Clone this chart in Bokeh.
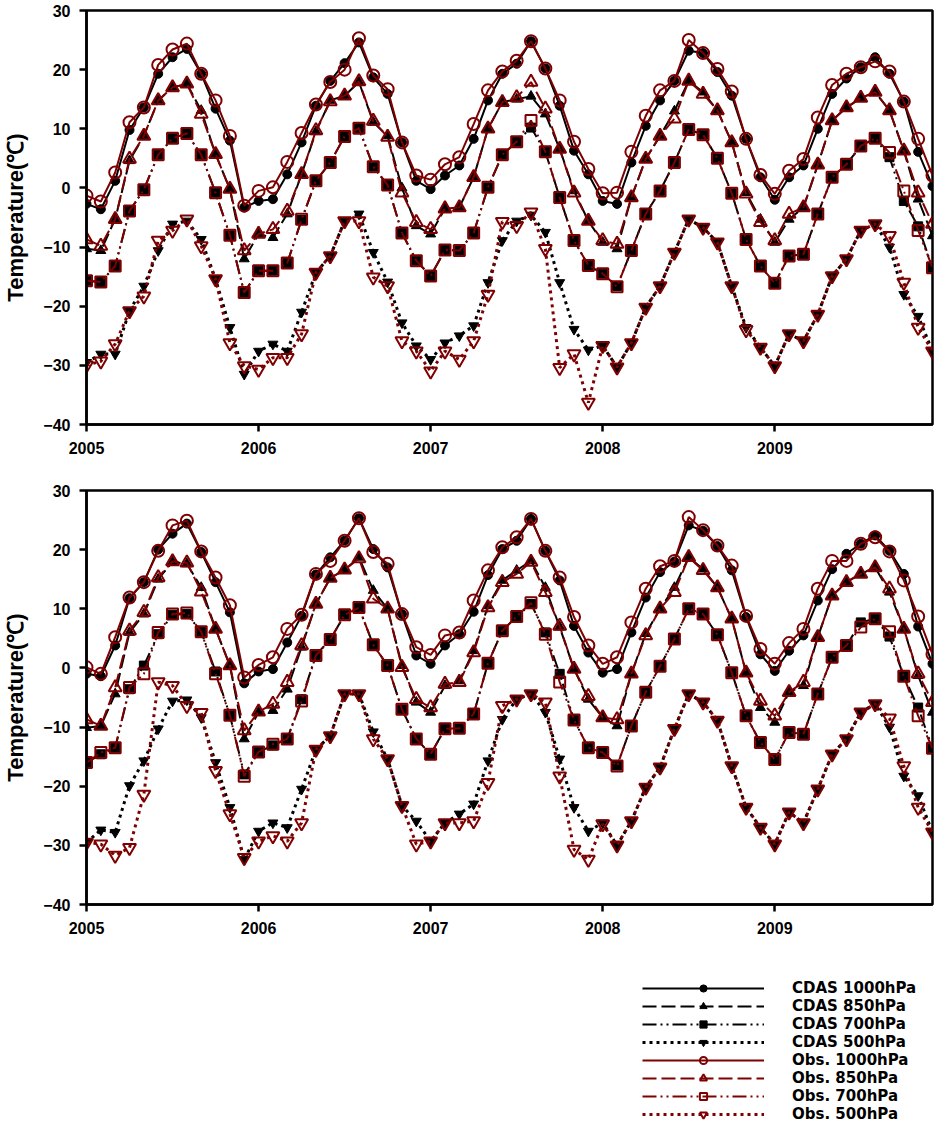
from bokeh.plotting import figure
from bokeh.models import Range1d, FixedTicker, Legend, LegendItem, ColumnDataSource
from bokeh.layouts import column
from bokeh.embed import file_html
from bokeh.resources import INLINE

# ---------------- data ----------------
month_index = list(range(60))          # Jan 2005 .. Dec 2009
year_ticks = [0, 12, 24, 36, 48]
year_labels = ["2005", "2006", "2007", "2008", "2009"]
y_ticks = [-40, -30, -20, -10, 0, 10, 20, 30]

series_names = ["CDAS 1000hPa", "CDAS 850hPa", "CDAS 700hPa", "CDAS 500hPa",
                "Obs. 1000hPa", "Obs. 850hPa", "Obs. 700hPa", "Obs. 500hPa"]

# ---- top panel ----
cdas1000_top = [-2.7, -3.6, 1.2, 9.8, 13.6, 19.3, 22.1, 23.5, 19.3, 13.4, 8.0, -3.3,
                -2.2, -1.9, 2.3, 7.7, 13.9, 18.1, 21.1, 24.6, 18.7, 15.9, 7.7, 1.2,
                -0.2, 2.1, 3.8, 8.3, 14.8, 19.3, 21.0, 24.8, 20.2, 13.9, 6.3, 2.3,
                -2.2, -2.7, 4.3, 10.5, 14.8, 18.1, 23.2, 22.8, 19.6, 15.6, 8.3, 1.8,
                -2.0, 1.8, 3.8, 10.0, 15.9, 18.5, 20.4, 22.1, 19.3, 14.6, 6.1, 0.3]
obs1000_top = [-1.3, -2.3, 2.6, 11.1, 13.6, 20.8, 23.4, 24.4, 19.3, 14.8, 8.8, -3.0,
               -0.5, 0.1, 4.4, 9.3, 14.1, 17.9, 20.0, 25.3, 19.0, 16.7, 7.7, 2.1,
               1.4, 4.0, 5.2, 10.8, 16.5, 19.7, 21.5, 24.8, 20.2, 14.8, 7.8, 3.2,
               -0.9, -0.8, 6.1, 12.2, 16.5, 18.1, 25.0, 22.8, 20.1, 16.3, 8.3, 2.2,
               -1.0, 2.9, 4.9, 11.9, 17.4, 19.3, 20.4, 21.4, 19.7, 14.6, 8.3, 2.1]
cdas850_top = [-10.3, -10.6, -5.3, 4.6, 8.8, 14.8, 17.0, 17.6, 13.1, 5.7, -0.2, -12.0,
               -7.8, -8.4, -4.4, 2.3, 9.5, 14.8, 15.6, 17.9, 11.1, 8.8, 0.0, -6.4,
               -7.8, -3.5, -3.3, 1.8, 10.0, 14.5, 15.0, 15.5, 12.5, 6.6, -0.5, -5.6,
               -9.2, -10.3, -1.6, 4.9, 8.8, 13.0, 18.1, 16.2, 13.1, 7.7, -0.8, -5.3,
               -9.2, -5.3, -3.3, 3.9, 11.4, 13.6, 15.2, 16.2, 13.1, 6.3, -1.9, -8.1]
obs850_top = [-8.7, -9.8, -5.3, 4.9, 8.8, 14.8, 17.0, 17.6, 12.5, 5.7, -0.2, -10.6,
              -7.8, -7.0, -3.9, 2.3, 9.7, 14.6, 15.6, 18.0, 11.3, 8.6, -0.8, -5.8,
              -7.0, -3.5, -3.3, 1.8, 10.0, 14.5, 15.3, 17.9, 13.4, 6.6, -0.8, -5.6,
              -8.9, -9.5, -1.6, 4.9, 8.8, 11.7, 18.1, 15.9, 13.1, 7.7, -1.0, -5.8,
              -8.9, -4.4, -3.3, 3.9, 11.4, 13.6, 15.2, 16.2, 13.1, 6.3, -0.8, -6.1]
cdas700_top = [-15.7, -15.9, -13.2, -3.9, -0.3, 5.6, 8.4, 9.2, 5.6, -0.8, -8.0, -17.7,
               -14.0, -14.0, -12.7, -5.4, 1.2, 4.3, 8.7, 10.1, 3.6, 0.5, -7.6, -12.3,
               -14.9, -10.5, -10.6, -7.6, 0.1, 5.6, 7.8, 10.2, 6.1, -1.6, -8.9, -13.1,
               -14.5, -16.6, -10.6, -4.4, -0.5, 4.3, 9.9, 9.0, 5.0, -0.9, -8.7, -13.2,
               -16.1, -11.5, -11.2, -4.4, 1.8, 4.0, 7.1, 8.4, 5.2, -2.2, -6.5, -13.5]
obs700_top = [-15.7, -15.9, -13.2, -3.9, -0.3, 5.6, 8.4, 9.2, 5.6, -0.8, -8.0, -17.7,
              -14.0, -14.0, -12.7, -5.3, 1.2, 4.3, 8.7, 10.1, 3.6, 0.5, -7.6, -12.3,
              -14.9, -10.5, -10.6, -7.6, 0.1, 5.6, 7.8, 11.4, 6.1, -1.6, -8.9, -13.1,
              -14.5, -16.7, -10.6, -4.4, -0.5, 4.3, 9.9, 9.0, 5.0, -0.9, -8.7, -13.2,
              -16.1, -11.5, -11.2, -4.4, 1.8, 4.0, 7.1, 8.4, 6.0, -0.5, -7.2, -13.5]
cdas500_top = [-29.5, -28.1, -28.1, -20.8, -16.6, -10.6, -6.1, -5.6, -8.7, -15.4, -23.6, -31.5,
               -27.6, -26.4, -27.6, -21.0, -14.3, -11.5, -5.6, -4.4, -10.9, -15.9, -22.8, -26.7,
               -29.0, -26.2, -25.0, -23.3, -16.0, -8.9, -5.6, -4.6, -7.5, -16.0, -23.9, -27.4,
               -26.7, -30.3, -26.2, -20.2, -16.6, -10.9, -5.3, -6.7, -9.2, -16.6, -23.6, -27.0,
               -30.1, -24.7, -25.9, -21.4, -14.9, -12.0, -7.2, -6.1, -10.0, -18.0, -21.7, -27.6]
obs500_top = [-30.0, -29.3, -26.4, -20.8, -18.3, -8.9, -7.2, -5.3, -9.8, -15.4, -26.2, -30.1,
              -30.7, -28.7, -28.7, -24.7, -14.3, -11.5, -5.6, -5.6, -15.1, -16.6, -25.9, -27.6,
              -31.0, -27.6, -29.0, -25.9, -18.0, -5.7, -6.4, -4.1, -10.3, -30.4, -28.1, -36.3,
              -26.7, -30.3, -26.2, -20.2, -16.6, -10.9, -5.3, -6.7, -9.2, -16.6, -24.0, -27.0,
              -30.1, -24.7, -25.9, -21.4, -14.9, -12.0, -7.2, -6.1, -8.1, -16.0, -23.6, -27.6]

# ---- bottom panel ----
cdas1000_bot = [-1.0, -1.4, 3.8, 11.8, 14.5, 20.0, 22.7, 24.4, 19.6, 14.5, 9.4, -2.6,
                -0.6, -0.2, 4.3, 8.8, 15.8, 18.7, 21.5, 25.3, 20.1, 17.0, 9.1, 2.1,
                0.7, 3.8, 5.7, 9.5, 15.7, 20.1, 21.5, 25.2, 19.8, 14.8, 7.1, 2.6,
                -0.8, -0.2, 6.0, 11.9, 16.2, 18.0, 24.1, 23.2, 20.6, 16.5, 8.6, 2.3,
                -0.5, 2.9, 5.5, 11.4, 16.7, 19.3, 21.0, 22.4, 19.8, 15.9, 7.0, 0.7]
obs1000_bot = [0.1, -1.0, 5.2, 11.9, 14.5, 19.8, 24.1, 24.9, 19.7, 15.3, 10.6, -1.6,
               0.5, 1.8, 6.6, 9.0, 15.9, 18.1, 21.5, 25.3, 19.6, 17.6, 9.1, 3.5,
               2.2, 5.5, 6.0, 11.4, 16.5, 20.4, 22.1, 25.2, 19.8, 15.3, 8.6, 3.8,
               0.7, 1.8, 7.7, 13.4, 17.2, 18.1, 25.5, 23.3, 20.7, 17.3, 8.8, 3.2,
               0.7, 4.2, 6.6, 13.4, 18.1, 18.1, 21.0, 22.1, 19.7, 14.8, 8.7, 2.3]
cdas850_bot = [-10.1, -9.8, -4.4, 6.0, 9.1, 15.0, 17.9, 17.6, 13.6, 6.6, 0.4, -12.0,
               -7.5, -7.2, -3.6, 3.5, 10.8, 15.2, 16.6, 18.7, 13.1, 10.0, 0.4, -5.8,
               -7.5, -3.0, -2.2, 2.9, 10.5, 14.8, 16.5, 18.1, 13.6, 6.9, -0.2, -5.3,
               -8.4, -9.8, -1.0, 5.8, 10.0, 13.6, 18.7, 16.7, 13.6, 8.3, -0.8, -6.7,
               -9.2, -4.1, -3.0, 5.2, 12.2, 14.5, 15.9, 17.0, 12.8, 6.6, -1.3, -7.5]
obs850_bot = [-8.7, -9.8, -3.3, 6.3, 9.4, 15.3, 18.0, 17.8, 12.9, 6.6, 0.4, -10.6,
              -7.4, -6.1, -2.4, 3.8, 10.8, 15.2, 16.6, 18.5, 11.7, 10.0, 0.1, -5.3,
              -6.7, -2.7, -2.4, 2.6, 10.2, 14.5, 15.9, 17.9, 12.8, 7.1, -0.2, -4.8,
              -8.4, -8.7, -1.0, 5.5, 10.0, 12.8, 18.7, 16.5, 13.6, 8.3, -0.8, -5.6,
              -8.1, -4.1, -2.4, 5.2, 12.2, 14.5, 15.9, 17.0, 13.4, 6.6, -1.0, -5.8]
cdas700_bot = [-16.0, -14.6, -13.5, -3.6, 0.4, 5.7, 9.0, 9.1, 6.1, -0.6, -8.0, -18.0,
               -14.2, -13.1, -12.0, -5.3, 2.2, 4.8, 9.0, 10.2, 3.9, 0.4, -7.0, -12.0,
               -14.6, -10.3, -10.2, -7.8, 0.8, 6.3, 8.7, 10.8, 6.0, -1.0, -8.8, -13.5,
               -14.3, -16.5, -9.8, -4.1, 0.3, 4.9, 10.0, 9.1, 5.6, -0.8, -8.1, -12.6,
               -15.5, -10.9, -11.2, -4.4, 1.8, 3.8, 7.7, 8.3, 5.3, -1.4, -6.7, -13.6]
obs700_bot = [-16.0, -14.3, -13.5, -3.3, -1.0, 6.0, 9.1, 9.3, 6.1, -1.0, -8.0, -18.3,
              -14.2, -12.9, -12.0, -5.6, 2.1, 4.8, 9.0, 10.2, 3.9, 0.4, -7.0, -12.0,
              -14.6, -10.3, -10.2, -7.8, 0.8, 6.3, 8.7, 11.0, 5.7, -2.4, -8.8, -13.5,
              -14.3, -16.6, -9.8, -4.1, 0.3, 4.9, 10.0, 9.1, 5.6, -0.8, -8.1, -12.6,
              -15.5, -10.9, -11.2, -4.4, 1.8, 3.8, 6.9, 8.3, 6.1, -1.4, -8.1, -13.6]
cdas500_bot = [-29.5, -27.4, -27.8, -19.9, -15.7, -10.3, -5.6, -5.4, -8.4, -16.0, -23.6, -32.4,
               -27.6, -26.2, -27.0, -20.5, -13.8, -11.5, -4.4, -4.4, -10.8, -15.4, -23.3, -25.9,
               -29.3, -26.2, -24.7, -23.0, -15.7, -8.7, -5.3, -4.4, -7.5, -15.4, -23.6, -27.6,
               -26.2, -30.0, -25.9, -20.2, -16.8, -10.3, -4.4, -5.8, -8.9, -16.6, -23.6, -27.0,
               -29.8, -24.4, -26.2, -20.5, -14.6, -12.0, -7.5, -6.1, -10.0, -18.3, -21.6, -27.8]
obs500_bot = [-29.5, -29.8, -31.7, -30.4, -21.4, -2.4, -3.0, -6.4, -7.6, -17.4, -24.7, -32.1,
              -29.3, -28.4, -29.3, -26.2, -13.8, -11.5, -4.4, -4.4, -12.0, -15.4, -23.3, -29.8,
              -29.3, -26.2, -26.2, -25.9, -19.4, -6.4, -5.3, -4.4, -5.8, -18.3, -30.7, -32.4,
              -26.4, -30.0, -25.9, -20.2, -16.8, -10.3, -4.4, -5.8, -8.9, -16.6, -23.6, -27.0,
              -29.8, -24.4, -26.2, -20.5, -14.6, -12.0, -7.5, -6.1, -8.5, -16.6, -23.6, -27.8]

top_values = [cdas1000_top, cdas850_top, cdas700_top, cdas500_top,
              obs1000_top, obs850_top, obs700_top, obs500_top]
bot_values = [cdas1000_bot, cdas850_bot, cdas700_bot, cdas500_bot,
              obs1000_bot, obs850_bot, obs700_bot, obs500_bot]

# ---------------- styles ----------------
BLACK = "#000000"
RED = "#7f0000"
styles = [
    dict(color=BLACK, dash="solid", width=2, marker="circle", size=9, filled=True),
    dict(color=BLACK, dash="14 5", width=2, marker="triangle", size=10, filled=True),
    dict(color=BLACK, dash="14 4 2 4 2 4", width=2, marker="square", size=9, filled=True),
    dict(color=BLACK, dash="3 4", width=3, marker="inverted_triangle", size=10, filled=True),
    dict(color=RED, dash="solid", width=2, marker="circle", size=12, filled=False),
    dict(color=RED, dash="14 5", width=2, marker="triangle", size=13, filled=False),
    dict(color=RED, dash="14 4 2 4 2 4", width=2, marker="square", size=11, filled=False),
    dict(color=RED, dash="3 4", width=3, marker="inverted_triangle", size=13, filled=False),
]

FONT = "Liberation Sans"
BORDER_L, BORDER_R = 79, 2


def draw_series(p, x, y, st):
    src = ColumnDataSource(dict(x=x, y=y))
    rl = p.line("x", "y", source=src, line_color=st["color"], line_width=st["width"],
                line_dash=st["dash"])
    if st["filled"]:
        rs = p.scatter("x", "y", source=src, marker=st["marker"], size=st["size"],
                       fill_color=st["color"], line_color=st["color"], line_width=1)
    else:
        rs = p.scatter("x", "y", source=src, marker=st["marker"], size=st["size"],
                       fill_color=None, line_color=st["color"], line_width=2)
    return rl, rs


def make_panel(values):
    p = figure(width=934, height=480, output_backend="svg", toolbar_location=None,
               x_range=Range1d(month_index[0], month_index[-1]),
               y_range=Range1d(y_ticks[0], y_ticks[-1]),
               min_border_left=BORDER_L, min_border_right=BORDER_R, min_border_top=10,
               min_border_bottom=56)
    p.grid.visible = False
    p.outline_line_color = "black"
    p.outline_line_width = 2.5
    p.background_fill_color = "white"
    p.border_fill_color = "white"

    p.xaxis.ticker = FixedTicker(ticks=year_ticks)
    p.xaxis.major_label_overrides = {t: l for t, l in zip(year_ticks, year_labels)}
    p.yaxis.ticker = FixedTicker(ticks=y_ticks)
    for ax in (p.xaxis[0], p.yaxis[0]):
        ax.axis_line_width = 2.5
        ax.axis_line_color = "black"
        ax.major_tick_line_width = 2.5
        ax.major_tick_line_color = "black"
        ax.major_tick_in = 0
        ax.major_tick_out = 7
        ax.minor_tick_line_color = None
        ax.major_label_text_font = FONT
        ax.major_label_text_font_style = "bold"
        ax.major_label_text_font_size = "16px"
        ax.major_label_text_color = "black"
    p.xaxis.major_label_standoff = 10
    p.yaxis.major_label_standoff = 9
    p.yaxis.axis_label = "Temperature(\u2103)"
    p.yaxis.axis_label_text_font = FONT
    p.yaxis.axis_label_text_font_style = "bold"
    p.yaxis.axis_label_text_font_size = "22px"
    p.yaxis.axis_label_text_color = "black"
    p.yaxis.axis_label_standoff = 12

    for vals, st in zip(values, styles):
        draw_series(p, month_index, vals, st)
    return p


p_top = make_panel(top_values)
p_bot = make_panel(bot_values)

# ---------------- legend ----------------
LEG_H = 167
lg = figure(width=934, height=LEG_H, output_backend="svg", toolbar_location=None,
            x_range=Range1d(0, 1), y_range=Range1d(0, 1),
            x_axis_type=None, y_axis_type=None,
            min_border_left=BORDER_L, min_border_right=BORDER_R, min_border_top=0,
            min_border_bottom=0)
lg.grid.visible = False
lg.outline_line_color = None
nan = float("nan")
items = []
for name, st in zip(series_names, styles):
    rl, rs = draw_series(lg, [nan], [nan], st)
    items.append(LegendItem(label=name, renderers=[rl, rs]))
legend = Legend(items=items, location=(556, 4),
                glyph_width=122, glyph_height=18,
                label_height=18, label_standoff=28, spacing=0, padding=0, margin=0,
                border_line_color=None, background_fill_alpha=0,
                label_text_font="DejaVu Sans", label_text_font_style="bold",
                label_text_font_size="15px", label_text_color="black")
lg.add_layout(legend)

layout = column(p_top, p_bot, lg, spacing=0)
open("out.html", "w").write(file_html(layout, INLINE))
